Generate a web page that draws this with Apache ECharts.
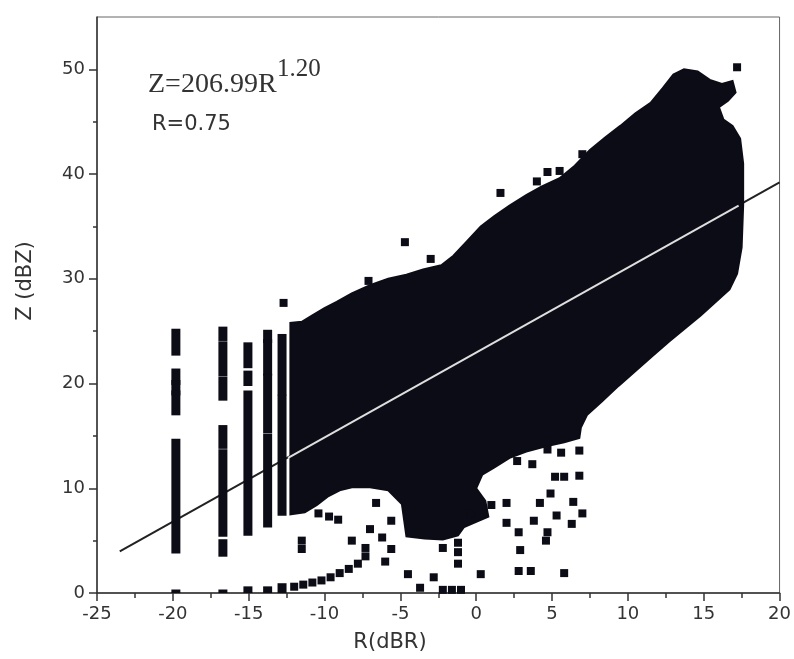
<!DOCTYPE html>
<html>
<head>
<meta charset="utf-8">
<script src="https://cdn.jsdelivr.net/npm/echarts@6/dist/echarts.min.js"></script>
<style>html,body{margin:0;padding:0;background:#fff}#c{width:794px;height:659px}</style>
</head>
<body>
<div id="c"></div>
<script>
// ---- data ----
const xTicks = [-25, -20, -15, -10, -5, 0, 5, 10, 15, 20];
const yTicks = [0, 10, 20, 30, 40, 50];

// outline of the dense (saturated) cloud of points, [R, Z]
const blobOutline = [
  [-12.25, 7.5], [-12.25, 25.8], [-11.5, 25.9], [-10.8, 26.5], [-10.0, 27.2], [-9.2, 27.8],
  [-8.2, 28.6], [-7.0, 29.4], [-5.8, 30.0], [-4.6, 30.4], [-3.5, 30.9], [-2.3, 31.3],
  [-1.5, 32.2], [-0.6, 33.6], [0.3, 35.0], [1.2, 36.0], [2.2, 37.0], [3.3, 38.0],
  [4.3, 38.8], [5.5, 39.6], [6.5, 40.8], [7.5, 42.3], [8.5, 43.5], [9.5, 44.6],
  [10.5, 45.8], [11.5, 46.8], [12.3, 48.2], [13.0, 49.5], [13.7, 50.0], [14.6, 49.8],
  [15.4, 49.0], [16.2, 48.6], [16.9, 48.9], [17.1, 47.8], [16.6, 47.0], [16.0, 46.4],
  [16.3, 45.2], [16.9, 44.6], [17.4, 43.4], [17.6, 41.0], [17.6, 37.0], [17.5, 33.0],
  [17.2, 30.5], [16.7, 29.0], [15.8, 27.8], [14.8, 26.5], [13.8, 25.3], [12.7, 24.0],
  [11.6, 22.6], [10.5, 21.2], [9.4, 19.8], [8.3, 18.3], [7.3, 17.0], [6.9, 15.8],
  [6.8, 14.8], [5.8, 14.4], [4.6, 14.0], [3.3, 13.5], [2.2, 12.9], [1.2, 12.0],
  [0.4, 11.3], [0.0, 10.0], [0.6, 8.8], [0.8, 7.3], [0.0, 6.8], [-0.8, 6.3],
  [-1.2, 5.5], [-2.2, 5.1], [-3.4, 5.2], [-4.6, 5.4], [-4.9, 8.5], [-5.8, 9.8],
  [-7.0, 10.1], [-8.2, 10.1], [-9.0, 9.8], [-9.8, 9.2], [-10.5, 8.4], [-11.3, 7.7]
];

// vertical runs of points at the discrete low R values: [R, Zfrom, Zto]
const streakRuns = [
  [-19.8, 23.0, 24.9], [-19.8, 20.2, 21.1], [-19.8, 19.2, 20.0], [-19.8, 17.3, 19.0], [-19.8, 4.1, 14.4], [-19.8, 0.0, 0.0],
  [-16.7, 24.4, 25.1], [-16.7, 21.0, 23.7], [-16.7, 18.7, 20.3], [-16.7, 14.1, 15.7], [-16.7, 5.7, 13.4], [-16.7, 3.8, 4.8], [-16.7, 0.0, 0.0],
  [-15.05, 21.8, 23.6], [-15.05, 20.1, 20.9], [-15.05, 5.8, 19.0], [-15.05, 0.0, 0.3],
  [-13.75, 24.2, 24.8], [-13.75, 21.1, 23.9], [-13.75, 15.6, 20.6], [-13.75, 6.6, 14.9], [-13.75, 0.0, 0.3],
  [-12.8, 19.2, 24.4], [-12.8, 7.7, 18.6], [-12.8, 0.0, 0.6]
];

// isolated points outside the dense cloud, [R, Z]
const loosePoints = [
  [-12.7, 27.7], [-7.1, 29.8], [-4.7, 33.5], [-3.0, 31.9], [1.6, 38.2], [4.0, 39.3],
  [4.7, 40.2], [5.5, 40.3], [7.0, 41.9], [17.2, 50.2],
  [-12.0, 0.6], [-11.4, 0.8], [-10.8, 1.0], [-10.2, 1.2], [-9.6, 1.5], [-9.0, 1.9],
  [-8.4, 2.3], [-7.8, 2.8], [-7.3, 3.5], [-7.3, 4.3],
  [-11.5, 5.0], [-11.5, 4.2], [-10.4, 7.6], [-9.7, 7.3], [-9.1, 7.0], [-8.2, 5.0],
  [-7.0, 6.1], [-6.2, 5.3], [-5.6, 4.2], [-6.0, 3.0], [-6.6, 8.6], [-5.6, 6.9],
  [-4.5, 1.8], [-3.7, 0.5], [-2.8, 1.5], [-2.2, 0.3], [-1.6, 0.3], [-1.0, 0.3],
  [-2.2, 4.3], [-1.2, 4.8], [-1.2, 3.9], [-1.2, 2.8], [0.3, 1.8],
  [2.0, 8.6], [2.0, 6.7], [2.8, 5.8], [2.9, 4.1], [2.8, 2.1], [3.6, 2.1],
  [3.8, 6.9], [4.2, 8.6], [4.7, 5.8], [4.6, 5.0], [4.9, 9.5], [5.2, 11.1], [5.8, 11.1],
  [5.3, 7.4], [5.8, 1.9], [6.3, 6.6], [6.4, 8.7], [6.8, 11.2], [7.0, 7.6],
  [4.7, 13.7], [5.6, 13.4], [6.8, 13.6], [2.7, 12.6], [3.7, 12.3], [1.0, 8.4], [-0.4, 7.6]
];

// fitted line Z = 206.99 R^1.20 as drawn
const fitLine = [[-23.5, 3.97], [20, 39.2]];
const fitLineInside = [[-12.4, 12.9], [17.3, 37.0]];

const equationText = 'Z=206.99R';
const exponentText = '1.20';
const corrText = 'R=0.75';
const xName = 'R(dBR)';
const yName = 'Z (dBZ)';

// ---- chart ----
const INK = '#0c0c16';
const AX = '#333';
const chart = echarts.init(document.getElementById('c'), null, {renderer: 'canvas'});

const option = {
  animation: false,
  backgroundColor: '#fff',
  grid: {left: 97, right: 13, top: 17, bottom: 66, show: true, borderColor: '#666', borderWidth: 1, backgroundColor: 'transparent'},
  xAxis: {
    type: 'value', min: xTicks[0], max: xTicks[xTicks.length - 1], interval: 5,
    axisLine: {show: true, onZero: false, lineStyle: {color: AX, width: 1.5}},
    axisTick: {show: true, length: 8, lineStyle: {color: AX, width: 1.5}},
    minorTick: {show: true, splitNumber: 2, length: 5, lineStyle: {color: AX, width: 1.5}},
    splitLine: {show: false},
    axisLabel: {fontFamily: 'DejaVu Sans', fontSize: 18, color: '#333', margin: 12}
  },
  yAxis: {
    type: 'value', min: 0, max: 55, interval: 10,
    axisLine: {show: true, onZero: false, lineStyle: {color: AX, width: 1.5}},
    axisTick: {show: true, length: 8, customValues: yTicks, lineStyle: {color: AX, width: 1.5}},
    minorTick: {show: true, splitNumber: 2, length: 4, lineStyle: {color: AX, width: 1.5}},
    splitLine: {show: false},
    axisLabel: {fontFamily: 'DejaVu Sans', fontSize: 18, color: '#333', margin: 12, customValues: yTicks,
      formatter: v => (v % 10 === 0 && v <= 50) ? String(v) : ''}
  },
  series: [
    {
      type: 'line', data: fitLine, symbol: 'none', z: 1,
      lineStyle: {color: '#222', width: 2}
    },
    {
      type: 'custom', data: blobOutline, z: 2, clip: true,
      renderItem: function (params, api) {
        if (params.dataIndex !== 0) return null;
        const pts = blobOutline.map(p => api.coord(p));
        return {type: 'polygon', shape: {points: pts}, style: {fill: INK, stroke: INK, lineWidth: 2}};
      }
    },
    {
      type: 'custom', data: streakRuns, z: 3, clip: true,
      renderItem: function (params, api) {
        const x = api.value(0);
        const p0 = api.coord([x, api.value(1)]);
        const p1 = api.coord([x, api.value(2)]);
        const top = p1[1] - 3.5, bottom = p0[1] + 3.5;
        return {type: 'rect', shape: {x: p0[0] - 4.5, y: top, width: 9, height: bottom - top}, style: {fill: INK}};
      }
    },
    {
      type: 'scatter', data: loosePoints, symbol: 'rect', symbolSize: 8, z: 4,
      itemStyle: {color: INK, opacity: 1}
    },
    {
      type: 'line', data: fitLineInside, symbol: 'none', z: 5,
      lineStyle: {color: '#dedede', width: 2}
    }
  ],
  graphic: [
    {type: 'text', x: 148, y: 85, style: {text: equationText, font: '28px "Liberation Serif"', fill: '#333', verticalAlign: 'middle'}},
    {type: 'text', x: 277, y: 69, style: {text: exponentText, font: '25px "Liberation Serif"', fill: '#333', verticalAlign: 'middle'}},
    {type: 'text', x: 152, y: 125, style: {text: corrText, font: '21px "DejaVu Sans"', fill: '#333', verticalAlign: 'middle'}},
    {type: 'text', x: 390, y: 643, style: {text: xName, font: '21px "DejaVu Sans"', fill: '#333', align: 'center', verticalAlign: 'middle'}},
    {type: 'text', x: 26, y: 281, rotation: Math.PI / 2, style: {text: yName, font: '21px "DejaVu Sans"', fill: '#333', align: 'center', verticalAlign: 'middle'}}
  ]
};
chart.setOption(option);
</script>
</body>
</html>
